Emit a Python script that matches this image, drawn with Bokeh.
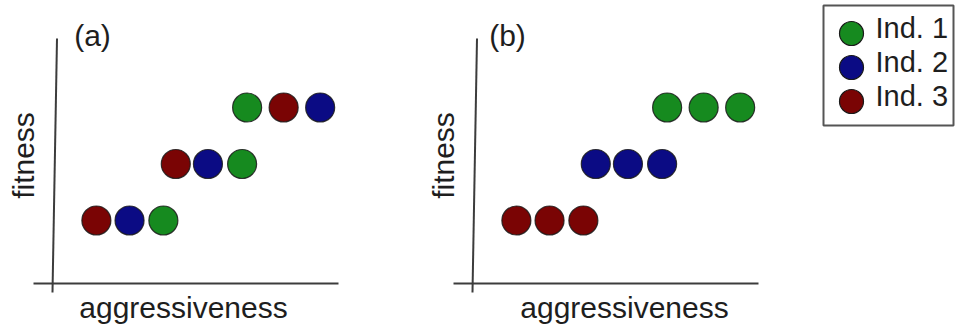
import math
from bokeh.plotting import figure
from bokeh.layouts import row
from bokeh.models import Range1d
from bokeh.core.properties import value
from bokeh.embed import file_html
from bokeh.resources import INLINE

# ---------------- data ----------------
individuals = ["Ind. 1", "Ind. 2", "Ind. 3"]
ind_colors = {"Ind. 1": "#168a1f", "Ind. 2": "#0b0b84", "Ind. 3": "#7a0404"}

# aggressiveness (x) and fitness (y) of each drawn dot
aggressiveness = [1.28, 2.27, 3.28, 3.65, 4.61, 5.63, 5.78, 6.87, 7.96]
fitness = [1, 1, 1, 2, 2, 2, 3, 3, 3]
panel_a_ind = ["Ind. 3", "Ind. 2", "Ind. 1",
               "Ind. 3", "Ind. 2", "Ind. 1",
               "Ind. 1", "Ind. 3", "Ind. 2"]
panel_b_ind = ["Ind. 3", "Ind. 3", "Ind. 3",
               "Ind. 2", "Ind. 2", "Ind. 2",
               "Ind. 1", "Ind. 1", "Ind. 1"]
panel_titles = ["(a)", "(b)"]
x_label = "aggressiveness"
y_label = "fitness"

FONT = value("Liberation Sans")
TXT = "#1e1e1e"
H = 327
X0, XU = 53.0, 33.5      # px of aggressiveness 0, px per unit
Y0, YU = 276.5, 56.5     # px of fitness 0, px per unit


def dx(px):
    return (px - X0) / XU


def dy(py):
    return (Y0 - py) / YU


def panel(width, inds, title, title_cx, xlabel_cx):
    p = figure(width=width, height=H, output_backend="svg", toolbar_location=None,
               x_range=Range1d(dx(0), dx(width)), y_range=Range1d(dy(H), dy(0)),
               min_border=0, min_border_left=0, min_border_right=0,
               min_border_top=0, min_border_bottom=0)
    p.axis.visible = False
    p.grid.visible = False
    p.outline_line_color = None
    p.background_fill_color = "white"
    p.border_fill_color = "white"
    # hand-drawn style axes
    p.segment(x0=[dx(33), dx(56.5)], y0=[dy(283), dy(38)],
              x1=[dx(338), dx(52)], y1=[dy(283), dy(292)],
              line_color="#3c3c3c", line_width=2)
    p.scatter(x=aggressiveness, y=fitness, size=29, marker="circle",
              fill_color=[ind_colors[i] for i in inds],
              line_color="#1a1a1a", line_width=1.2, line_alpha=0.85)
    p.text(x=[dx(title_cx)], y=[dy(35)], text=[title], text_font=FONT,
           text_font_size="30px", text_color=TXT, text_align="center",
           text_baseline="middle")
    p.text(x=[dx(xlabel_cx)], y=[dy(306.5)], text=[x_label], text_font=FONT,
           text_font_size="30px", text_color=TXT, text_align="center",
           text_baseline="middle")
    p.text(x=[dx(23)], y=[dy(155)], text=[y_label], text_font=FONT,
           text_font_size="30px", text_color=TXT, text_align="center",
           text_baseline="middle", angle=math.pi / 2)
    return p


pa = panel(420, panel_a_ind, panel_titles[0], 92, 183)
pb = panel(400, panel_b_ind, panel_titles[1], 87, 204)

# ---------------- legend ----------------
LW = 139
pl = figure(width=LW, height=H, output_backend="svg", toolbar_location=None,
            x_range=Range1d(0, LW), y_range=Range1d(H, 0),
            min_border=0, min_border_left=0, min_border_right=0,
            min_border_top=0, min_border_bottom=0)
pl.axis.visible = False
pl.grid.visible = False
pl.outline_line_color = None
pl.quad(left=[3], right=[133], top=[5], bottom=[125], fill_color="white",
        line_color="#555555", line_width=2)
leg_y = [33, 67, 101]
pl.scatter(x=[31] * 3, y=leg_y, size=24, marker="circle",
           fill_color=[ind_colors[i] for i in individuals],
           line_color="#1a1a1a", line_width=1.2)
pl.text(x=[55] * 3, y=[v - 5.5 for v in leg_y], text=individuals, text_font=FONT,
        text_font_size="29px", text_color=TXT, text_align="left",
        text_baseline="middle")

layout = row(pa, pb, pl, spacing=0)
open("out.html", "w").write(file_html(layout, INLINE))
